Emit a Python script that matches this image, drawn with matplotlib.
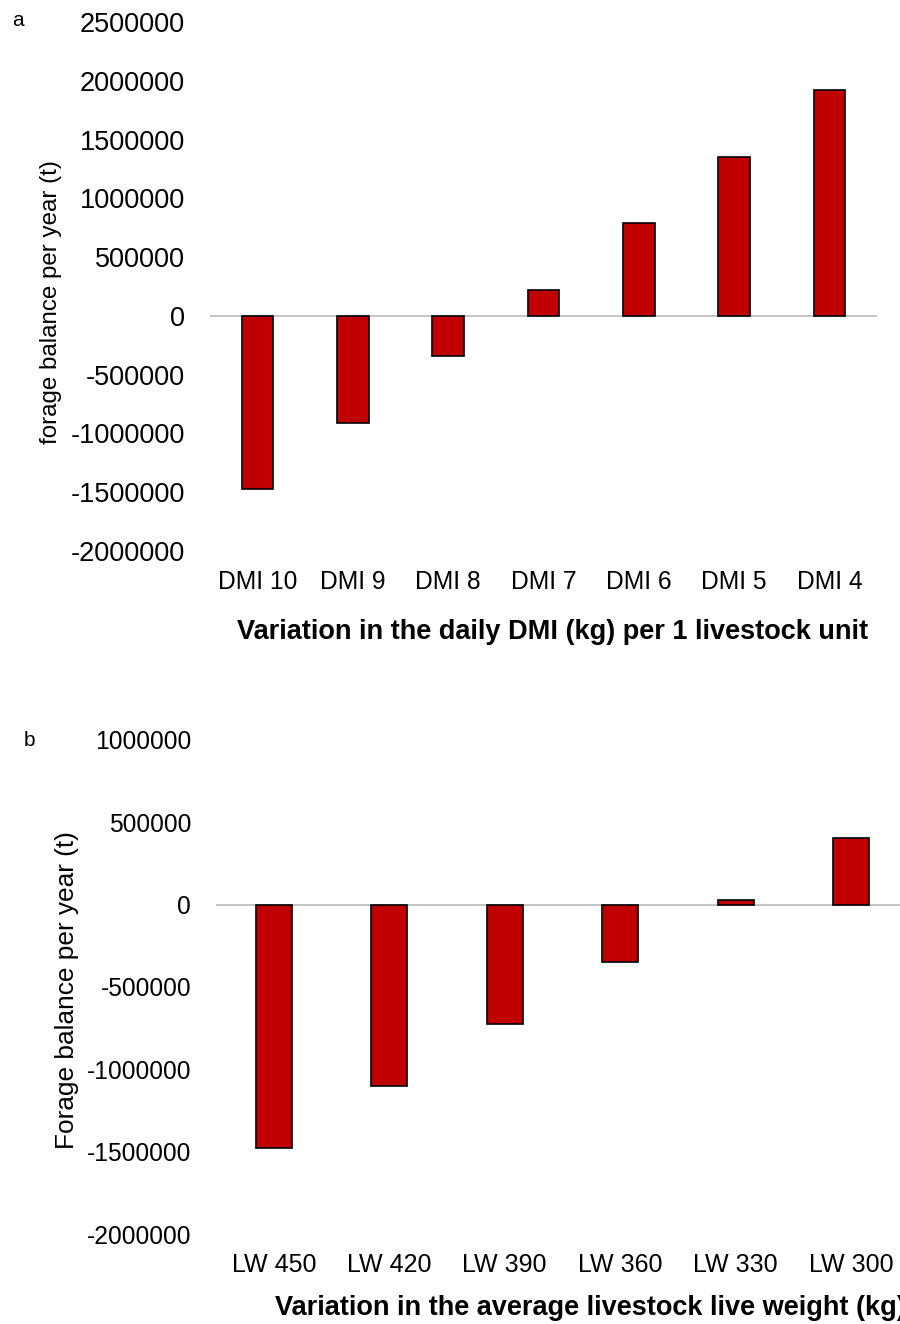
import numpy as np
import matplotlib.pyplot as plt

plt.rcParams['font.family'] = ['Liberation Sans', 'DejaVu Sans']

# panel a: daily dry matter intake
dmi_labels = ["DMI 10", "DMI 9", "DMI 8", "DMI 7", "DMI 6", "DMI 5", "DMI 4"]
dmi_balance = [-1470000, -910000, -340000, 221000, 791000, 1352000, 1922000]
dmi_ticks = [-2000000, -1500000, -1000000, -500000, 0, 500000, 1000000,
             1500000, 2000000, 2500000]

# panel b: average live weight
lw_labels = ["LW 450", "LW 420", "LW 390", "LW 360", "LW 330", "LW 300"]
lw_balance = [-1476000, -1100000, -723000, -346000, 30000, 407000]
lw_ticks = [-2000000, -1500000, -1000000, -500000, 0, 500000, 1000000]

bar_color = "#C00000"

fig = plt.figure(figsize=(9, 13.24), dpi=100)


def draw_panel(ax, labels, values, ticks, width, yfs, xfs, ylabel, yl_fs, xlabel):
    x = np.arange(len(labels))
    ax.bar(x, values, width=width, color=bar_color, edgecolor="black", linewidth=1.2, zorder=3)
    ax.axhline(0, color="#bfbfbf", linewidth=1.3, zorder=2)
    ax.set_xlim(-0.5, len(labels) - 0.5)
    ax.set_ylim(ticks[0], ticks[-1])
    ax.set_yticks(ticks)
    ax.set_yticklabels([str(t) for t in ticks], fontsize=yfs)
    ax.set_xticks(x)
    ax.set_xticklabels(labels, fontsize=xfs)
    ax.tick_params(axis="y", length=0, pad=18)
    ax.tick_params(axis="x", length=0, pad=14)
    for s in ax.spines.values():
        s.set_visible(False)
    ax.set_ylabel(ylabel, fontsize=yl_fs)
    ax.set_xlabel(xlabel, fontsize=19.5, fontweight="bold")


ax1 = fig.add_axes([210 / 900, 1 - 551 / 1324, 667 / 900, 529 / 1324])
draw_panel(ax1, dmi_labels, dmi_balance, dmi_ticks, 0.33, 19.5, 17.7,
           "forage balance per year (t)", 17.4,
           "Variation in the daily DMI (kg) per 1 livestock unit")
ax1.yaxis.set_label_coords(-0.222, 0.471)
ax1.xaxis.set_label_coords(0.514, -0.128)

ax2 = fig.add_axes([216 / 900, 1 - 1234 / 1324, 693 / 900, 494 / 1324])
draw_panel(ax2, lw_labels, lw_balance, lw_ticks, 0.31, 17.7, 18,
           "Forage balance per year (t)", 18.9,
           "Variation in the average livestock live weight (kg)")
ax2.yaxis.set_label_coords(-0.197, 0.494)
ax2.xaxis.set_label_coords(0.54, -0.124)

fig.text(12 / 900, 1 - 20 / 1324, "a", fontsize=15, va="center")
fig.text(24 / 900, 1 - 740 / 1324, "b", fontsize=15, va="center")

fig.savefig("out.png", dpi=100)
